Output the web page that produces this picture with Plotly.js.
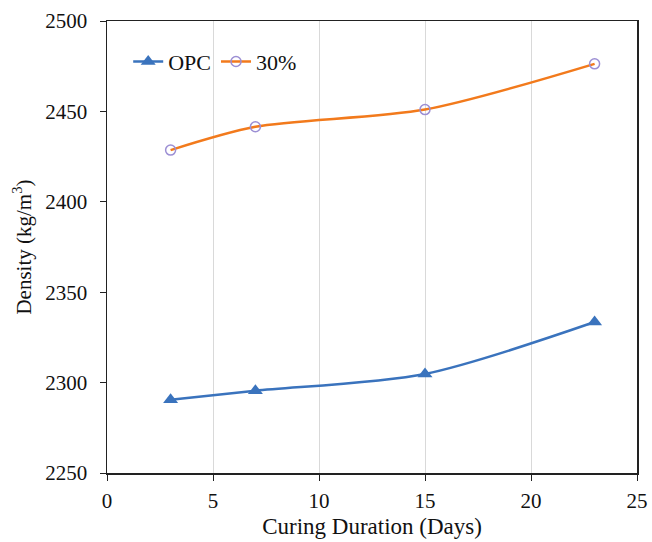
<!DOCTYPE html>
<html><head><meta charset="utf-8">
<script src="https://cdn.plot.ly/plotly-3.0.1.min.js"></script>
<style>body{margin:0;background:#fff}</style>
</head><body>
<div id="chart" style="width:652px;height:542px"></div>
<script>
const days = [3, 7, 15, 23];
const opc = [2290.5, 2295.5, 2304.8, 2333.5];
const pct30 = [2428.6, 2441.5, 2451, 2476.3];
const seriesNames = ['OPC', '30%'];

const font = 'Liberation Serif, Times New Roman, serif';
const traces = [
  {x: days, y: opc, name: seriesNames[0], type: 'scatter', mode: 'lines+markers',
   line: {color: '#3A73BD', width: 2.5, shape: 'spline', smoothing: 0.8},
   marker: {symbol: 'triangle-up', size: 13, color: '#3A73BD'}},
  {x: days, y: pct30, name: seriesNames[1], type: 'scatter', mode: 'lines+markers',
   line: {color: '#F27A1C', width: 2.5, shape: 'spline', smoothing: 0.8},
   marker: {symbol: 'circle-open', size: 10, color: '#9C8FD4', line: {width: 1.5, color: '#9C8FD4'}}}
];
const layout = {
  width: 652, height: 542,
  margin: {l: 107, r: 15, t: 21, b: 69},
  paper_bgcolor: '#fff', plot_bgcolor: '#fff',
  font: {family: font, size: 21, color: '#111'},
  showlegend: true,
  legend: {x: 0.04, y: 0.91, xanchor: 'left', yanchor: 'middle', orientation: 'h',
           font: {family: font, size: 22, color: '#111'}, bgcolor: 'rgba(0,0,0,0)', itemwidth: 30, tracegroupgap: 0},
  xaxis: {range: [0, 25], dtick: 5, tick0: 0, showgrid: true, gridcolor: '#d9d9d9', gridwidth: 1,
          zeroline: false, showline: true, linecolor: '#222', linewidth: 1.5, mirror: true,
          ticks: 'outside', ticklen: 6, tickcolor: '#222', ticklabelstandoff: 2,
          tickfont: {family: font, size: 21, color: '#111'},
          title: {text: 'Curing Duration (Days)', font: {family: font, size: 23, color: '#111'}, standoff: 6}},
  yaxis: {range: [2250, 2500], dtick: 50, showgrid: false, zeroline: false,
          showline: true, linecolor: '#222', linewidth: 1.5, mirror: true,
          ticks: 'outside', ticklen: 6, tickcolor: '#222', ticklabelstandoff: 8,
          tickfont: {family: font, size: 21, color: '#111'},
          title: {text: 'Density (kg/m<sup>3</sup>)', font: {family: font, size: 21, color: '#111'}, standoff: 8}}
};
Plotly.newPlot('chart', traces, layout, {displayModeBar: false, staticPlot: true});
</script>
</body></html>
